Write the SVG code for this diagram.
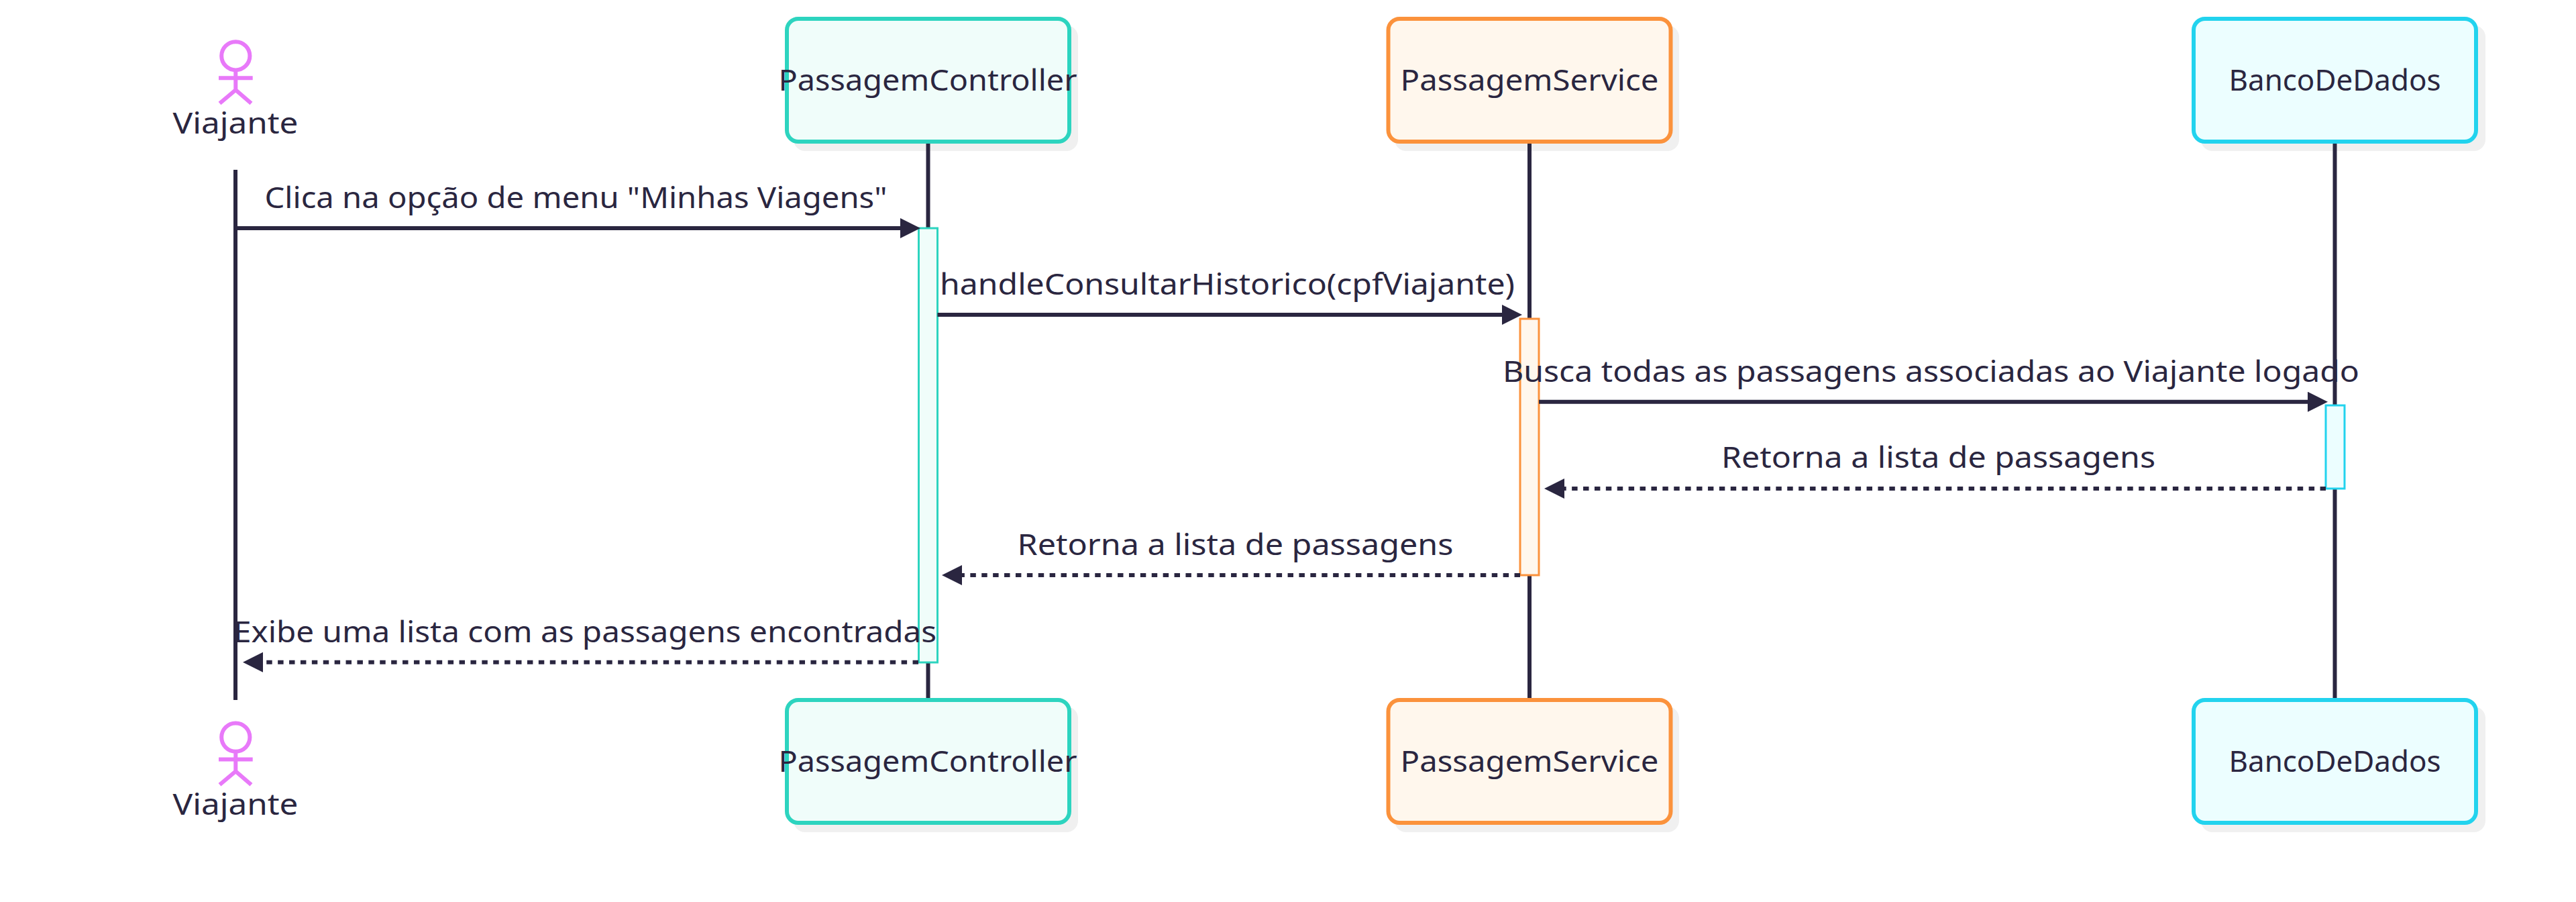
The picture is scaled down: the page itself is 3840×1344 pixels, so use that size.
<svg xmlns="http://www.w3.org/2000/svg" width="3840" height="1344" viewBox="0 0 3840 1344">
<style>
text{font-family:"Noto Sans","Liberation Sans",sans-serif;font-size:44px;fill:#2a2640}
.m{text-anchor:middle}
.ll{stroke:#2a2640;stroke-width:6;fill:none}
.msg{stroke:#2a2640;stroke-width:6;fill:none;marker-end:url(#arrow)}
.dash{stroke-dasharray:8.45 8.45}
.shadow{fill:#f0f0f0}
.box{stroke-width:6}
.act{stroke-width:3}
.stick{fill:none;stroke:#e879f9;stroke-width:6}
.teal{fill:#f0fdfa;stroke:#2dd4bf}
.orange{fill:#fff7ed;stroke:#fb923c}
.cyan{fill:#ecfeff;stroke:#22d3ee}
</style>
<defs>
<marker id="arrow" markerUnits="userSpaceOnUse" markerWidth="32" markerHeight="32" refX="22" refY="15" orient="auto"><path d="M0,0L30,15L0,30z" fill="#2a2640"/></marker>
<g id="stick"><circle cx="351.3" cy="83.3" r="21.1"/><path d="M351.3 104.4V134M326 116.3H376.7M351.3 134L327.5 154M351.3 134L374.5 154"/></g>
</defs>
<rect width="3840" height="1344" fill="#fff"/>
<g id="shadows">
<rect class="shadow" x="1183" y="38" width="424" height="187" rx="17"/>
<rect class="shadow" x="2079" y="38" width="424" height="187" rx="17"/>
<rect class="shadow" x="3281" y="38" width="424" height="187" rx="17"/>
<rect class="shadow" x="1183" y="1053" width="424" height="187" rx="17"/>
<rect class="shadow" x="2079" y="1053" width="424" height="187" rx="17"/>
<rect class="shadow" x="3281" y="1053" width="424" height="187" rx="17"/>
</g>
<g id="lifelines">
<path class="ll" d="M351 253V1043"/>
<path class="ll" d="M1383.5 213V1043"/>
<path class="ll" d="M2280 213V1043"/>
<path class="ll" d="M3480.5 213V1043"/>
</g>
<g id="activations">
<rect class="act teal" x="1369.500" y="340" width="28" height="647"/>
<rect class="act orange" x="2266" y="475" width="28" height="382"/>
<rect class="act cyan" x="3467" y="604" width="28" height="124"/>
</g>
<g id="connectors">
<line class="msg" x1="353" y1="340" x2="1364" y2="340"/>
<line class="msg" x1="1397.500" y1="469" x2="2261" y2="469"/>
<line class="msg" x1="2294" y1="598.700" x2="3462" y2="598.700"/>
<line class="msg dash" x1="3467" y1="728" x2="2310" y2="728"/>
<line class="msg dash" x1="2266" y1="857" x2="1412" y2="857"/>
<line class="msg dash" x1="1369" y1="986.700" x2="370" y2="986.700"/>
</g>
<g id="actor-viajante-top"><use href="#stick" class="stick"/><text class="m" x="351" y="198.500" textLength="187" lengthAdjust="spacingAndGlyphs">Viajante</text></g>
<g id="actor-viajante-bottom"><use href="#stick" class="stick" y="1015.300"/><text class="m" x="351" y="1213.500" textLength="187" lengthAdjust="spacingAndGlyphs">Viajante</text></g>
<g id="controller-top"><rect class="box teal" x="1173" y="28" width="421" height="183" rx="17"/><text class="m" x="1383" y="134.700" textLength="445" lengthAdjust="spacingAndGlyphs">PassagemController</text></g>
<g id="service-top"><rect class="box orange" x="2069.500" y="28" width="421" height="183" rx="17"/><text class="m" x="2280" y="134.700" textLength="385" lengthAdjust="spacingAndGlyphs">PassagemService</text></g>
<g id="banco-top"><rect class="box cyan" x="3270" y="28" width="421" height="183" rx="17"/><text class="m" x="3480.500" y="134.700" textLength="316" lengthAdjust="spacingAndGlyphs">BancoDeDados</text></g>
<g id="controller-bottom"><rect class="box teal" x="1173" y="1043" width="421" height="183" rx="17"/><text class="m" x="1383" y="1149.700" textLength="445" lengthAdjust="spacingAndGlyphs">PassagemController</text></g>
<g id="service-bottom"><rect class="box orange" x="2069.500" y="1043" width="421" height="183" rx="17"/><text class="m" x="2280" y="1149.700" textLength="385" lengthAdjust="spacingAndGlyphs">PassagemService</text></g>
<g id="banco-bottom"><rect class="box cyan" x="3270" y="1043" width="421" height="183" rx="17"/><text class="m" x="3480.500" y="1149.700" textLength="316" lengthAdjust="spacingAndGlyphs">BancoDeDados</text></g>
<g id="labels">
<text class="m" x="858.500" y="310" textLength="928" lengthAdjust="spacingAndGlyphs">Clica na opção de menu "Minhas Viagens"</text>
<text class="m" x="1829.500" y="439.300" textLength="857" lengthAdjust="spacingAndGlyphs">handleConsultarHistorico(cpfViajante)</text>
<text class="m" x="2878.500" y="568.500" textLength="1277" lengthAdjust="spacingAndGlyphs">Busca todas as passagens associadas ao Viajante logado</text>
<text class="m" x="2889.500" y="697.300" textLength="647" lengthAdjust="spacingAndGlyphs">Retorna a lista de passagens</text>
<text class="m" x="1841.500" y="826.700" textLength="650" lengthAdjust="spacingAndGlyphs">Retorna a lista de passagens</text>
<text class="m" x="872" y="956.700" textLength="1048" lengthAdjust="spacingAndGlyphs">Exibe uma lista com as passagens encontradas</text>
</g>
</svg>
